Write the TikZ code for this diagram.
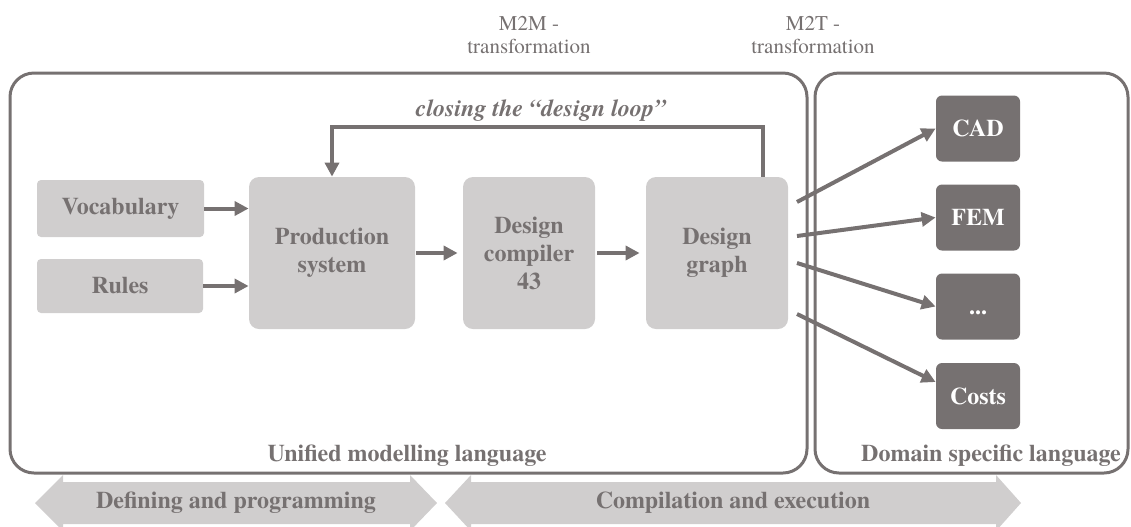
\documentclass[tikz,border=0pt]{standalone}
\usepackage{fontspec}
\setmainfont{texgyretermes}[Extension = .otf, UprightFont = *-regular, BoldFont = *-bold,
	ItalicFont = *-italic, BoldItalicFont = *-bolditalic]
\usetikzlibrary{arrows.meta}
\definecolor{darkgrey}{HTML}{767171}
\definecolor{lightgrey}{HTML}{D0CECE}

\begin{document}
\begin{tikzpicture}[x = 0.5pt, y = -0.5pt,
		lbox/.style = {fill = lightgrey, text = darkgrey, rounded corners = 5pt, align = center,
			inner sep = 0pt, font = \fontsize{12}{14}\selectfont\bfseries},
		dbox/.style = {fill = darkgrey, text = white, rounded corners = 3pt, inner sep = 0pt,
			text height = 8pt, text depth = 0pt,
			minimum width = 42pt, minimum height = 33pt, font = \fontsize{12}{14}\selectfont\bfseries},
		frame/.style = {draw = darkgrey, line width = 1.5pt, rounded corners = 12pt, inner sep = 0pt,
			minimum height = 200pt},
		flow/.style = {draw = darkgrey, line width = 2pt, -{Triangle[length = 7pt, width = 7pt]}},
		lbl/.style = {text = darkgrey, font = \fontsize{12}{14}\selectfont\bfseries},
		toplbl/.style = {text = darkgrey, align = center, font = \fontsize{10.5}{11.5}\selectfont}]
		\useasboundingbox (0, 0) rectangle (1131, 526);
		%%%%%%%%%%%%%
		\node [frame, minimum width = 398.5pt] (uml) at (408.5, 273) {};
		\node [frame, minimum width = 156.5pt] (dsl) at (971.5, 273) {};
		\node [lbl] (umltxt) at (407, 456) {Unified modelling language};
		\node [lbl] (dsltxt) at (991, 456) {Domain specific language};
		\node [toplbl] (m2m) at (529, 35) {M2M -\\transformation};
		\node [toplbl] (m2t) at (813, 35) {M2T -\\transformation};
		%%%%%%%%%%%%%
		\node [lbox, rounded corners = 2pt, minimum width = 83.5pt, minimum height = 28.5pt] (voc) at (120.5, 208.5) {Vocabulary};
		\node [lbox, rounded corners = 2pt, minimum width = 83pt, minimum height = 27pt] (rules) at (120, 286) {Rules};
		\node [lbox, minimum width = 83pt, minimum height = 76pt] (prod) at (332, 253) {Production\\system};
		\node [lbox, minimum width = 66pt, minimum height = 76pt] (comp) at (529, 253) {Design\\compiler\\43};
		\node [lbox, minimum width = 71pt, minimum height = 76pt] (graph) at (717, 253) {Design\\graph};
		\node [dbox] (cad) at (978, 128.5) {CAD};
		\node [dbox] (fem) at (978, 217.5) {FEM};
		\node [dbox] (more) at (978, 306.5) {...};
		\node [dbox] (costs) at (978, 396) {Costs};
		%%%%%%%%%%%%%
		\draw [flow] (voc.east) to (voc.east -| prod.west);
		\draw [flow] (rules.east) to (rules.east -| prod.west);
		\draw [flow, shorten < = 0.5pt, shorten > = 2.5pt] (prod.east) to (comp.west);
		\draw [flow, shorten < = 1pt, shorten > = 3pt] (comp.east) to (graph.west);
		%%%%%%%%%%%%% design loop
		\coordinate (lp) at (763, 127);
		\draw [flow] (lp |- graph.north) -- (lp) -| (prod.north);
		\node [lbl, font = \fontsize{12}{14}\selectfont\bfseries\itshape] (looptxt) at (541, 111) {closing the “design loop”};
		%%%%%%%%%%%%% outputs
		\coordinate (s1) at (797, 202); \coordinate (s2) at (797, 236);
		\coordinate (s3) at (797, 263); \coordinate (s4) at (797, 314);
		\draw [flow] (s1) to (cad.west); \draw [flow] (s2) to (fem.west);
		\draw [flow] (s3) to (more.west); \draw [flow] (s4) to ([yshift = 7pt] costs.west);
		%%%%%%%%%%%%% phases
		\fill [lightgrey] (35, 503) -- (63, 475) -- (63, 482) -- (410, 482) -- (410, 475) -- (437, 503)
			-- (410, 531) -- (410, 524) -- (63, 524) -- (63, 531) -- cycle;
		\fill [lightgrey] (445, 503) -- (471, 475) -- (471, 482) -- (996, 482) -- (996, 475) -- (1021, 503)
			-- (996, 531) -- (996, 524) -- (471, 524) -- (471, 531) -- cycle;
		\node [lbl] (define) at (236, 503) {Defining and programming};
		\node [lbl] (compile) at (733, 503) {Compilation and execution};
\end{tikzpicture}
\end{document}
